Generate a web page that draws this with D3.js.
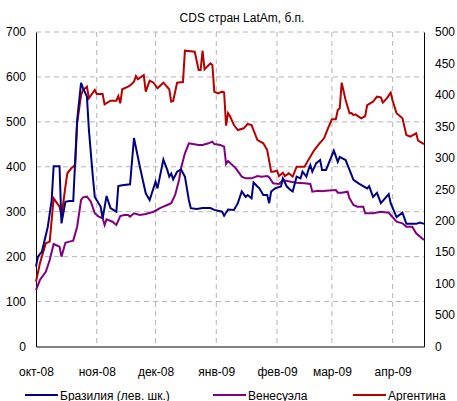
<!DOCTYPE html>
<html>
<head>
<meta charset="utf-8">
<script src="https://cdn.jsdelivr.net/npm/d3@7"></script>
<style>
  body { margin: 0; background: #fff; }
  svg { display: block; font-family: "Liberation Sans", Arial, sans-serif; }
  .grid line { stroke: #b4b4b4; stroke-dasharray: 5 4; }
</style>
</head>
<body>
<div id="chart"></div>
<script>
const title = 'CDS стран LatAm, б.п.'
const monthLabels = ['окт-08', 'ноя-08', 'дек-08', 'янв-09', 'фев-09', 'мар-09', 'апр-09']
const monthStarts = ['2008-10-01', '2008-11-01', '2008-12-01', '2009-01-01', '2009-02-01', '2009-03-01', '2009-04-01']
const leftTicks = [0, 100, 200, 300, 400, 500, 600, 700]
const rightTicks = [0, 500, 1000, 1500, 2000, 2500, 3000, 3500, 4000, 4500, 5000]
// labels as the picture shows them (its right edge cuts the last digit)
const rightTickLabels = ['0', '500', '100', '150', '200', '250', '300', '350', '400', '450', '500']
const seriesNames = ['Бразилия (лев. шк.)', 'Венесуэла', 'Аргентина']

// Бразилия, левая шкала
const brazil = [
  ['2008-10-01', 178], ['2008-10-02', 200], ['2008-10-04', 211], ['2008-10-07', 266], ['2008-10-09', 326],
  ['2008-10-10', 401], ['2008-10-13', 401], ['2008-10-14', 274], ['2008-10-16', 322], ['2008-10-18', 324],
  ['2008-10-20', 324], ['2008-10-22', 504], ['2008-10-24', 587], ['2008-10-25', 575], ['2008-10-27', 556],
  ['2008-10-28', 482], ['2008-10-30', 378], ['2008-10-31', 333], ['2008-11-03', 311], ['2008-11-04', 285],
  ['2008-11-06', 335], ['2008-11-08', 308], ['2008-11-11', 300], ['2008-11-12', 357], ['2008-11-14', 359],
  ['2008-11-18', 361], ['2008-11-20', 464], ['2008-11-23', 400], ['2008-11-26', 341], ['2008-11-28', 326],
  ['2008-12-01', 367], ['2008-12-02', 352], ['2008-12-05', 416], ['2008-12-07', 393], ['2008-12-08', 378],
  ['2008-12-09', 385], ['2008-12-10', 372], ['2008-12-12', 389], ['2008-12-14', 394], ['2008-12-16', 378],
  ['2008-12-18', 326], ['2008-12-19', 308], ['2008-12-22', 306], ['2008-12-25', 308], ['2008-12-29', 308],
  ['2008-12-31', 304], ['2009-01-04', 300], ['2009-01-05', 291], ['2009-01-07', 305], ['2009-01-10', 304],
  ['2009-01-12', 319], ['2009-01-14', 345], ['2009-01-16', 333], ['2009-01-17', 337], ['2009-01-19', 330],
  ['2009-01-20', 365], ['2009-01-22', 356], ['2009-01-23', 352], ['2009-01-25', 337], ['2009-01-27', 337],
  ['2009-01-28', 319], ['2009-01-29', 345], ['2009-01-31', 352], ['2009-02-03', 356], ['2009-02-04', 374],
  ['2009-02-06', 356], ['2009-02-08', 348], ['2009-02-09', 345], ['2009-02-11', 378], ['2009-02-13', 374],
  ['2009-02-14', 389], ['2009-02-16', 378], ['2009-02-17', 393], ['2009-02-18', 404], ['2009-02-19', 389],
  ['2009-02-21', 408], ['2009-02-23', 415], ['2009-02-24', 393], ['2009-02-26', 393], ['2009-03-02', 436],
  ['2009-03-04', 411], ['2009-03-05', 422], ['2009-03-08', 415], ['2009-03-10', 393], ['2009-03-12', 371],
  ['2009-03-15', 362], ['2009-03-19', 352], ['2009-03-20', 357], ['2009-03-22', 333], ['2009-03-24', 342],
  ['2009-03-26', 319], ['2009-03-30', 339], ['2009-03-31', 319], ['2009-04-03', 288], ['2009-04-06', 298],
  ['2009-04-08', 273], ['2009-04-13', 273], ['2009-04-15', 276], ['2009-04-17', 273]
]

// Венесуэла, правая шкала
const venezuela = [
  ['2008-10-01', 898], ['2008-10-03', 1057], ['2008-10-06', 1189], ['2008-10-08', 1375], ['2008-10-10', 1630],
  ['2008-10-13', 1587], ['2008-10-14', 1428], ['2008-10-16', 1650], ['2008-10-18', 1667], ['2008-10-20', 1683],
  ['2008-10-22', 1905], ['2008-10-24', 2329], ['2008-10-25', 2372], ['2008-10-27', 2382], ['2008-10-29', 2302],
  ['2008-10-31', 2118], ['2008-11-02', 2064], ['2008-11-04', 2038], ['2008-11-05', 1932], ['2008-11-06', 2022],
  ['2008-11-09', 1984], ['2008-11-11', 1932], ['2008-11-13', 2075], ['2008-11-15', 2091], ['2008-11-17', 2091],
  ['2008-11-18', 2064], ['2008-11-20', 2118], ['2008-11-23', 2091], ['2008-11-26', 2107], ['2008-11-30', 2143],
  ['2008-12-03', 2197], ['2008-12-05', 2223], ['2008-12-07', 2250], ['2008-12-09', 2277], ['2008-12-11', 2409],
  ['2008-12-13', 2647], ['2008-12-14', 2833], ['2008-12-16', 3072], ['2008-12-18', 3230], ['2008-12-20', 3219],
  ['2008-12-23', 3204], ['2008-12-25', 3204], ['2008-12-28', 3230], ['2008-12-30', 3256], ['2008-12-31', 3219],
  ['2009-01-03', 3204], ['2009-01-05', 3177], ['2009-01-06', 2902], ['2009-01-07', 2950], ['2009-01-11', 2833],
  ['2009-01-14', 2700], ['2009-01-16', 2674], ['2009-01-19', 2674], ['2009-01-22', 2711], ['2009-01-24', 2700],
  ['2009-01-27', 2711], ['2009-01-28', 2690], ['2009-01-30', 2595], ['2009-02-02', 2584], ['2009-02-04', 2647],
  ['2009-02-08', 2620], ['2009-02-11', 2604], ['2009-02-15', 2595], ['2009-02-18', 2584], ['2009-02-19', 2461],
  ['2009-02-22', 2477], ['2009-02-24', 2470], ['2009-02-26', 2477], ['2009-03-03', 2488], ['2009-03-04', 2445],
  ['2009-03-06', 2445], ['2009-03-09', 2461], ['2009-03-10', 2356], ['2009-03-12', 2250], ['2009-03-14', 2223],
  ['2009-03-17', 2223], ['2009-03-18', 2118], ['2009-03-22', 2118], ['2009-03-26', 2143], ['2009-03-30', 2127],
  ['2009-03-31', 2091], ['2009-04-03', 1984], ['2009-04-06', 1958], ['2009-04-08', 1905], ['2009-04-11', 1905],
  ['2009-04-13', 1799], ['2009-04-17', 1693]
]

// Аргентина, правая шкала
const argentina = [
  ['2008-10-01', 1030], ['2008-10-03', 1323], ['2008-10-06', 1641], ['2008-10-08', 1667], ['2008-10-10', 2356],
  ['2008-10-13', 2223], ['2008-10-14', 2064], ['2008-10-16', 2541], ['2008-10-17', 2754], ['2008-10-19', 2833],
  ['2008-10-21', 2886], ['2008-10-22', 3549], ['2008-10-24', 3998], ['2008-10-25', 4078], ['2008-10-27', 4130],
  ['2008-10-28', 3946], ['2008-10-31', 4078], ['2008-11-01', 4014], ['2008-11-04', 4014], ['2008-11-05', 3850],
  ['2008-11-08', 3908], ['2008-11-11', 3908], ['2008-11-12', 3982], ['2008-11-13', 3866], ['2008-11-14', 4089],
  ['2008-11-17', 4130], ['2008-11-18', 4150], ['2008-11-20', 4210], ['2008-11-21', 4300], ['2008-11-22', 4248],
  ['2008-11-25', 4316], ['2008-11-26', 4051], ['2008-11-28', 4226], ['2008-11-30', 4194], ['2008-12-02', 4105],
  ['2008-12-05', 4194], ['2008-12-08', 4089], ['2008-12-09', 3892], ['2008-12-10', 3903], ['2008-12-12', 4194],
  ['2008-12-15', 4205], ['2008-12-16', 4703], ['2008-12-21', 4687], ['2008-12-23', 4396], ['2008-12-24', 4396],
  ['2008-12-25', 4703], ['2008-12-26', 4407], ['2008-12-29', 4502], ['2008-12-30', 4475], ['2008-12-31', 4051],
  ['2009-01-02', 4025], ['2009-01-04', 4051], ['2009-01-05', 4040], ['2009-01-06', 3510], ['2009-01-07', 3710],
  ['2009-01-08', 3660], ['2009-01-10', 3521], ['2009-01-12', 3442], ['2009-01-15', 3469], ['2009-01-17', 3538],
  ['2009-01-19', 3521], ['2009-01-22', 3283], ['2009-01-25', 3230], ['2009-01-27', 3124], ['2009-01-29', 2779],
  ['2009-01-30', 2779], ['2009-02-01', 2795], ['2009-02-02', 2711], ['2009-02-04', 2763], ['2009-02-05', 2711],
  ['2009-02-07', 2753], ['2009-02-09', 2700], ['2009-02-11', 2859], ['2009-02-15', 2859], ['2009-02-17', 2965],
  ['2009-02-20', 3124], ['2009-02-23', 3240], ['2009-02-25', 3310], ['2009-02-27', 3469], ['2009-03-01', 3612],
  ['2009-03-03', 3612], ['2009-03-04', 3760], ['2009-03-05', 3787], ['2009-03-06', 4194], ['2009-03-08', 3919],
  ['2009-03-10', 3708], ['2009-03-11', 3712], ['2009-03-12', 3680], ['2009-03-13', 3690], ['2009-03-16', 3628],
  ['2009-03-18', 3664], ['2009-03-19', 3839], ['2009-03-22', 3892], ['2009-03-24', 3972], ['2009-03-26', 3961],
  ['2009-03-27', 3876], ['2009-03-29', 3946], ['2009-03-31', 4035], ['2009-04-01', 3908], ['2009-04-03', 3708],
  ['2009-04-06', 3628], ['2009-04-08', 3362], ['2009-04-10', 3336], ['2009-04-13', 3390], ['2009-04-14', 3272],
  ['2009-04-17', 3219]
]

const width = 457
const height = 401
const plot = { LEFT: 36, RIGHT: 424, TOP: 32, BOTTOM: 346.5 }
const colors = ['#000080', '#800080', '#b80000']
const parse = d3.timeParse('%Y-%m-%d')

const svg = d3.select('#chart')
  .append('svg')
  .attr('width', width)
  .attr('height', height)
  .attr('viewBox', `0 0 ${width} ${height}`)

const x = d3.scaleTime()
  .domain([parse('2008-10-01'), parse('2009-04-17')])
  .range([plot.LEFT, plot.RIGHT])

const yLeft = d3.scaleLinear().domain([0, 700]).range([plot.BOTTOM, plot.TOP])
const yRight = d3.scaleLinear().domain([0, 5000]).range([plot.BOTTOM, plot.TOP])

// grid
svg.append('g')
  .attr('class', 'grid')
  .selectAll('line')
  .data(leftTicks.slice(1))
  .join('line')
  .attr('x1', plot.LEFT)
  .attr('x2', plot.RIGHT)
  .attr('y1', d => yLeft(d))
  .attr('y2', d => yLeft(d))

svg.append('g')
  .attr('class', 'grid')
  .selectAll('line')
  .data(monthStarts.slice(1))
  .join('line')
  .attr('x1', d => x(parse(d)))
  .attr('x2', d => x(parse(d)))
  .attr('y1', plot.TOP)
  .attr('y2', plot.BOTTOM)

// axes
const styleAxis = g => {
  g.selectAll('text').attr('fill', '#000').style('font-size', '12px')
  g.select('.domain').attr('stroke', '#000')
}

svg.append('g')
  .attr('transform', `translate(${plot.LEFT}, 0)`)
  .call(d3.axisLeft(yLeft).tickValues(leftTicks).tickSize(0).tickPadding(10))
  .call(styleAxis)

svg.append('g')
  .attr('transform', `translate(${plot.RIGHT}, 0)`)
  .call(d3.axisRight(yRight)
    .tickValues(rightTicks)
    .tickFormat((d, i) => rightTickLabels[i])
    .tickSize(0)
    .tickPadding(11))
  .call(styleAxis)

svg.append('g')
  .attr('transform', `translate(0, ${plot.BOTTOM})`)
  .call(d3.axisBottom(x)
    .tickValues(monthStarts.map(parse))
    .tickFormat((d, i) => monthLabels[i])
    .tickSize(0)
    .tickPadding(21))
  .call(styleAxis)

// lines
const lineLeft = d3.line().x(d => x(parse(d[0]))).y(d => yLeft(d[1]))
const lineRight = d3.line().x(d => x(parse(d[0]))).y(d => yRight(d[1]))

svg.append('path').datum(venezuela)
  .attr('fill', 'none').attr('stroke', colors[1]).attr('stroke-width', 2).attr('d', lineRight)
svg.append('path').datum(argentina)
  .attr('fill', 'none').attr('stroke', colors[2]).attr('stroke-width', 2).attr('d', lineRight)
svg.append('path').datum(brazil)
  .attr('fill', 'none').attr('stroke', colors[0]).attr('stroke-width', 2).attr('d', lineLeft)

// title
svg.append('text')
  .attr('x', 242)
  .attr('y', 22)
  .attr('text-anchor', 'middle')
  .style('font-size', '12px')
  .text(title)

// legend
const legendX = [25, 213, 353]
const legend = svg.append('g')
  .selectAll('g')
  .data(seriesNames)
  .join('g')
  .attr('transform', (d, i) => `translate(${legendX[i]}, 395)`)

legend.append('line')
  .attr('x1', 0).attr('x2', 33)
  .attr('stroke', (d, i) => colors[i])
  .attr('stroke-width', 2)

legend.append('text')
  .attr('x', 35)
  .attr('y', 4.5)
  .style('font-size', '12px')
  .text(d => d)
</script>
</body>
</html>
